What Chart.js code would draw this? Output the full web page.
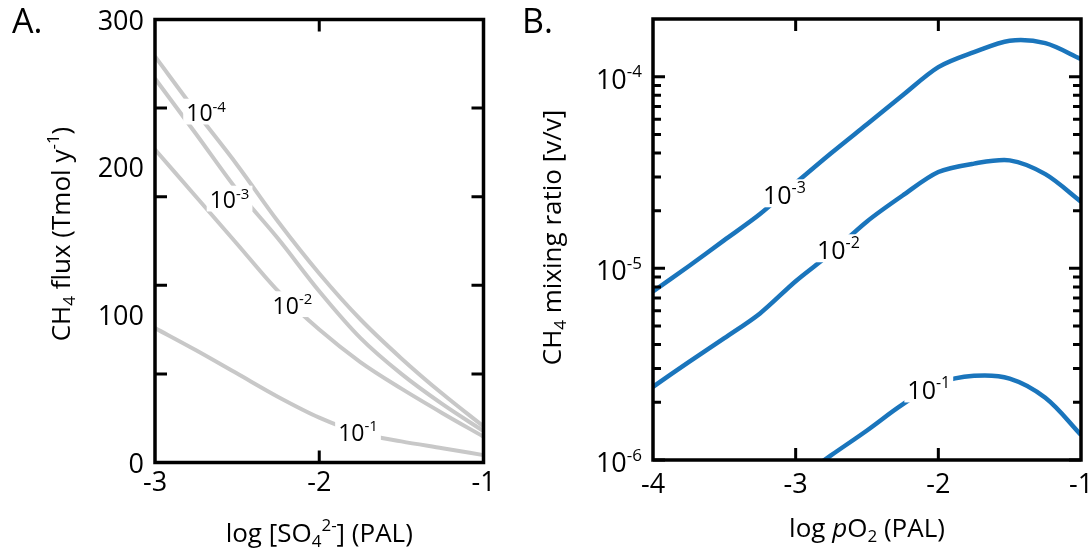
<!DOCTYPE html>
<html>
<head>
<meta charset="utf-8">
<script src="https://cdn.jsdelivr.net/npm/chart.js@4.4.1/dist/chart.umd.min.js"></script>
<style>
  body { margin: 0; background: #fff; width: 1091px; height: 552px; overflow: hidden; position: relative; }
  canvas { position: absolute; top: 0; }
</style>
</head>
<body>
<canvas id="chartA" width="500" height="552" style="left:0"></canvas>
<canvas id="chartB" width="591" height="552" style="left:500px"></canvas>
<script>
const FONT = "'Open Sans', 'Noto Sans', sans-serif";

// Panel A: CH4 flux vs log [SO4 2-]
const sulfateX = [-3, -2.75, -2.5, -2.25, -2, -1.75, -1.5, -1.25, -1];
const flux1e4 = [275, 237.5, 201.5, 163, 128, 97, 70.5, 46.5, 24.4];
const flux1e3 = [260, 222.5, 184.5, 151.5, 116, 84.4, 60, 39.5, 21.3];
const flux1e2 = [212, 180, 148, 116, 90, 68, 50, 33.4, 17.5];
const flux1e1 = [91, 76, 60.2, 44.4, 30.4, 20, 14.3, 9.7, 5];
const fluxExp = ['-4', '-3', '-2', '-1'];
const fluxLabelX = [-2.689, -2.546, -2.163, -1.764];
const fluxLabelY = [236.7, 177.8, 106.3, 20.3];
const fluxTickLabels = [0, 100, 200, 300];
const fluxTickMarks = [60, 120, 180, 240];
const sulfateTicks = [-3, -2, -1];
const sulfateTickMarks = [-2];

// Panel B: CH4 mixing ratio vs log pO2
const o2X = [-4, -3.75, -3.5, -3.25, -3, -2.75, -2.5, -2.25, -2, -1.75, -1.5, -1.25, -1];
const mix1e3 = [7.57e-6, 1.026e-5, 1.403e-5, 1.919e-5, 2.786e-5, 4.0e-5, 5.65e-5, 8.0e-5, 1.122e-4, 1.343e-4, 1.542e-4, 1.496e-4, 1.236e-4];
const mix1e2 = [2.41e-6, 3.24e-6, 4.32e-6, 5.82e-6, 8.57e-6, 1.205e-5, 1.758e-5, 2.40e-5, 3.18e-5, 3.52e-5, 3.66e-5, 3.10e-5, 2.23e-5];
const o2XLow = [-3, -2.75, -2.5, -2.25, -2, -1.75, -1.5, -1.25, -1];
const mix1e1 = [7.82e-7, 1.06e-6, 1.426e-6, 1.95e-6, 2.51e-6, 2.75e-6, 2.66e-6, 2.11e-6, 1.35e-6];
const mixExp = ['-3', '-2', '-1'];
const mixLabelX = [-3.079, -2.70, -2.067];
const mixLabelY = [2.42e-5, 1.25e-5, 2.32e-6];
const mixMajor = [1e-6, 1e-5, 1e-4];
const mixMajorExp = ['-6', '-5', '-4'];
const mixMinor = [2e-6, 3e-6, 4e-6, 5e-6, 6e-6, 7e-6, 8e-6, 9e-6, 2e-5, 3e-5, 4e-5, 5e-5, 6e-5, 7e-5, 8e-5, 9e-5];
const o2Ticks = [-4, -3, -2, -1];
const o2TickMarks = [-3, -2];

function richSegs(ctx, parts, size) {
  return parts.map(([t, k]) => {
    const s = (k === 'sup' || k === 'sub') ? Math.round(size * 0.64) : size;
    const font = (k === 'i' ? 'italic ' : '') + s + 'px ' + FONT;
    ctx.font = font;
    return { t, font, w: ctx.measureText(t).width, dy: k === 'sup' ? -size * 0.42 : k === 'sub' ? size * 0.2 : 0 };
  });
}

function drawRich(ctx, parts, x, base, size, align, bg) {
  const segs = richSegs(ctx, parts, size);
  const w = segs.reduce((s, g) => s + g.w, 0);
  let cx = align === 'right' ? x - w : align === 'center' ? x - w / 2 : x;
  if (bg) {
    ctx.fillStyle = '#fff';
    ctx.fillRect(cx - 3, base - size * 0.98, w + 6, size * 1.12);
  }
  ctx.fillStyle = '#000';
  ctx.textAlign = 'left';
  ctx.textBaseline = 'alphabetic';
  segs.forEach(g => { ctx.font = g.font; ctx.fillText(g.t, cx, base + g.dy); cx += g.w; });
  return w;
}

const decor = {
  id: 'decor',
  afterDatasetsDraw(chart, args, o) {
    const { ctx, chartArea: a, scales: { x, y } } = chart;
    ctx.save();
    // curve labels sitting in gaps of the lines
    o.labels.x.forEach((lx, i) => {
      const px = x.getPixelForValue(lx), py = y.getPixelForValue(o.labels.y[i]);
      drawRich(ctx, [['10', ''], [o.labels.exp[i], 'sup']], px, py + o.labelSize * 0.36, o.labelSize, 'center', true);
    });
    // frame
    ctx.strokeStyle = '#000';
    ctx.lineWidth = 3.5;
    ctx.strokeRect(a.left, a.top, a.width, a.height);
    // inward tick marks
    ctx.lineWidth = 3;
    ctx.beginPath();
    o.xMarks.forEach(v => {
      const px = x.getPixelForValue(v);
      ctx.moveTo(px, a.top); ctx.lineTo(px, a.top + 12);
      ctx.moveTo(px, a.bottom); ctx.lineTo(px, a.bottom - 12);
    });
    o.yMarks.forEach(v => {
      const py = y.getPixelForValue(v);
      ctx.moveTo(a.left, py); ctx.lineTo(a.left + 12, py);
      ctx.moveTo(a.right, py); ctx.lineTo(a.right - 12, py);
    });
    (o.yMinor || []).forEach(v => {
      const py = y.getPixelForValue(v);
      ctx.moveTo(a.left, py); ctx.lineTo(a.left + 8, py);
      ctx.moveTo(a.right, py); ctx.lineTo(a.right - 8, py);
    });
    ctx.stroke();
    // tick labels
    o.xLabels.forEach(v => {
      drawRich(ctx, [[String(v), '']], x.getPixelForValue(v), a.bottom + o.xLabelGap, 27, 'center');
    });
    o.yLabels.forEach((v, i) => {
      const parts = o.yExp ? [['10', ''], [o.yExp[i], 'sup']] : [[String(v), '']];
      drawRich(ctx, parts, a.left - 11, y.getPixelForValue(v) + 10 + o.yLabelShift, 27, 'right');
    });
    // axis titles
    drawRich(ctx, o.xTitle, (a.left + a.right) / 2, o.xTitleBase, 26, 'center');
    ctx.save();
    ctx.translate(o.yTitleBase, (a.top + a.bottom) / 2 + o.yTitleShift);
    ctx.rotate(-Math.PI / 2);
    drawRich(ctx, o.yTitle, 0, 0, 26, 'center');
    ctx.restore();
    // panel letter
    drawRich(ctx, [[o.letter, '']], o.letterX, 33, 34, 'left');
    ctx.restore();
  }
};

function series(xs, ys, color, width, tension) {
  const ds = {
    data: xs.map((v, i) => ({ x: v, y: ys[i] })),
    borderColor: color,
    borderWidth: width,
    pointRadius: 0,
    fill: false
  };
  if (tension) ds.tension = tension;
  else ds.cubicInterpolationMode = 'monotone';
  return ds;
}

const gray = '#c8c8c8';
const blue = '#1a75bc';

new Chart(document.getElementById('chartA'), {
  type: 'line',
  data: {
    datasets: [
      series(sulfateX, flux1e4, gray, 4),
      series(sulfateX, flux1e3, gray, 4),
      series(sulfateX, flux1e2, gray, 4),
      series(sulfateX, flux1e1, gray, 4)
    ]
  },
  options: {
    responsive: false,
    animation: false,
    devicePixelRatio: 1,
    layout: { padding: { left: 155, right: 16.5, top: 19.5, bottom: 89.5 } },
    scales: {
      x: { type: 'linear', min: -3, max: -1, display: false },
      y: { type: 'linear', min: 0, max: 300, display: false }
    },
    plugins: {
      legend: { display: false },
      tooltip: { enabled: false },
      decor: {
        labels: { x: fluxLabelX, y: fluxLabelY, exp: fluxExp },
        labelSize: 23,
        xMarks: sulfateTickMarks,
        yMarks: fluxTickMarks,
        xLabels: sulfateTicks,
        xLabelGap: 28.5,
        yLabels: fluxTickLabels,
        yLabelShift: 0,
        xTitle: [['log [SO', ''], ['4', 'sub'], ['2-', 'sup'], ['] (PAL)', '']],
        xTitleBase: 542,
        yTitle: [['CH', ''], ['4', 'sub'], [' flux (Tmol y', ''], ['-1', 'sup'], [')', '']],
        yTitleBase: 70,
        yTitleShift: -7,
        letter: 'A.',
        letterX: 12
      }
    }
  },
  plugins: [decor]
});

new Chart(document.getElementById('chartB'), {
  type: 'line',
  data: {
    datasets: [
      series(o2X, mix1e3, blue, 4.5, 0.3),
      series(o2X, mix1e2, blue, 4.5, 0.3),
      series(o2XLow, mix1e1, blue, 4.5, 0.35)
    ]
  },
  options: {
    responsive: false,
    animation: false,
    devicePixelRatio: 1,
    layout: { padding: { left: 153, right: 10, top: 19, bottom: 92 } },
    scales: {
      x: { type: 'linear', min: -4, max: -1, display: false },
      y: { type: 'logarithmic', min: 1e-6, max: 2e-4, display: false }
    },
    plugins: {
      legend: { display: false },
      tooltip: { enabled: false },
      decor: {
        labels: { x: mixLabelX, y: mixLabelY, exp: mixExp },
        labelSize: 25,
        xMarks: o2TickMarks,
        yMarks: mixMajor,
        yMinor: mixMinor,
        xLabels: o2Ticks,
        xLabelGap: 33,
        yLabels: mixMajor,
        yExp: mixMajorExp,
        yLabelShift: 2,
        xTitle: [['log ', ''], ['p', 'i'], ['O', ''], ['2', 'sub'], [' (PAL)', '']],
        xTitleBase: 537,
        yTitle: [['CH', ''], ['4', 'sub'], [' mixing ratio [v/v]', '']],
        yTitleBase: 61,
        yTitleShift: -2,
        letter: 'B.',
        letterX: 22
      }
    }
  },
  plugins: [decor]
});
</script>
</body>
</html>
